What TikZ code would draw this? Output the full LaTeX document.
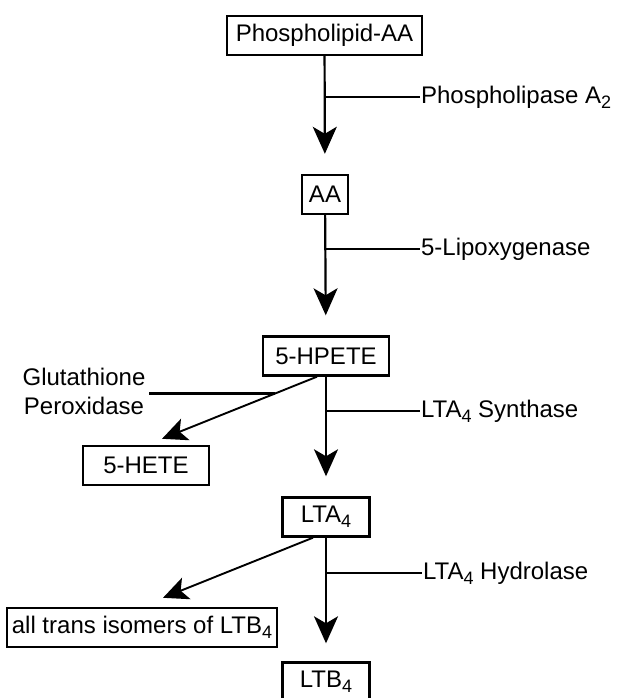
\documentclass[tikz,border=0pt]{standalone}
\usepackage{fontspec}
\setmainfont{Liberation Sans}
\usetikzlibrary{arrows.meta,calc}
\newcommand\lsub[1]{\raisebox{-0.22em}{\fontsize{18}{20}\selectfont #1}}

\begin{document}
\begin{tikzpicture}[x=1pt, y=-1pt, line width=2.2pt,
	box/.style={draw, line width=2.4pt, minimum height=39pt, inner xsep=9pt, font=\fontsize{24}{28}\selectfont},
	enz/.style={right, inner sep=0pt, font=\fontsize{24}{28}\selectfont},
	mainarr/.style={-{Stealth[length=27pt, width=24pt, inset=7pt]}, shorten >=20pt},
	sidearr/.style={line width=1.9pt, -{Stealth[length=25pt, width=23pt, inset=6pt]}}]
	\clip (0,0) rectangle (621,698);
	% pathway boxes
	\node[box] (paa) at (324.5,35.5) {Phospholipid-AA};
	\node[box, inner xsep=7pt] (aa) at (325,194.5) {AA};
	\node[box, minimum width=126pt] (hpete) at (326,356) {5-HPETE};
	\node[box, minimum width=126pt] (hete) at (146,465.5) {5-HETE};
	\node[box, minimum width=87pt] (lta) at (326,517) {LTA\lsub{4}};
	\node[box, inner xsep=5pt] (iso) at (142,627.5) {all trans isomers of LTB\lsub{4}};
	\node[box, minimum width=87pt] (ltb) at (326,682) {LTB\lsub{4}};
	% enzymes
	\node[enz] (pla) at (420,97) {Phospholipase A\lsub{2}};
	\node[enz] (lox) at (420,249) {5-Lipoxygenase};
	\node[enz] (syn) at (420,411) {LTA\lsub{4} Synthase};
	\node[enz] (hyd) at (422,573) {LTA\lsub{4} Hydrolase};
	\node[align=center, inner sep=3pt, font=\fontsize{24}{29}\selectfont] (gpx) at (84,391) {Glutathione\\Peroxidase};
	% main steps
	\draw[mainarr] (paa) -- (aa);
	\draw[mainarr] (aa) -- (hpete);
	\draw[mainarr] (hpete) -- (lta);
	\draw[mainarr, shorten >=18pt] (lta) -- (ltb);
	\coordinate (b1) at (324.5,97); \draw (b1) -- (pla.west);
	\coordinate (b2) at (325,249); \draw (b2) -- (lox.west);
	\coordinate (b3) at (326,411); \draw (b3) -- (syn.west);
	\coordinate (b4) at (326,573); \draw (b4) -- (hyd.west);
	% side products
	\draw[sidearr] ([xshift=-9pt]hpete.south) coordinate (s1) -- ([xshift=16pt,yshift=6pt]hete.north) coordinate (t1);
	\coordinate (g1) at ($(s1)!0.27!(t1)$);
	\draw (g1) -- (g1 -| gpx.east);
	\draw[sidearr] ([xshift=-13pt]lta.south) -- ([xshift=21pt,yshift=9pt]iso.north);
\end{tikzpicture}
\end{document}
